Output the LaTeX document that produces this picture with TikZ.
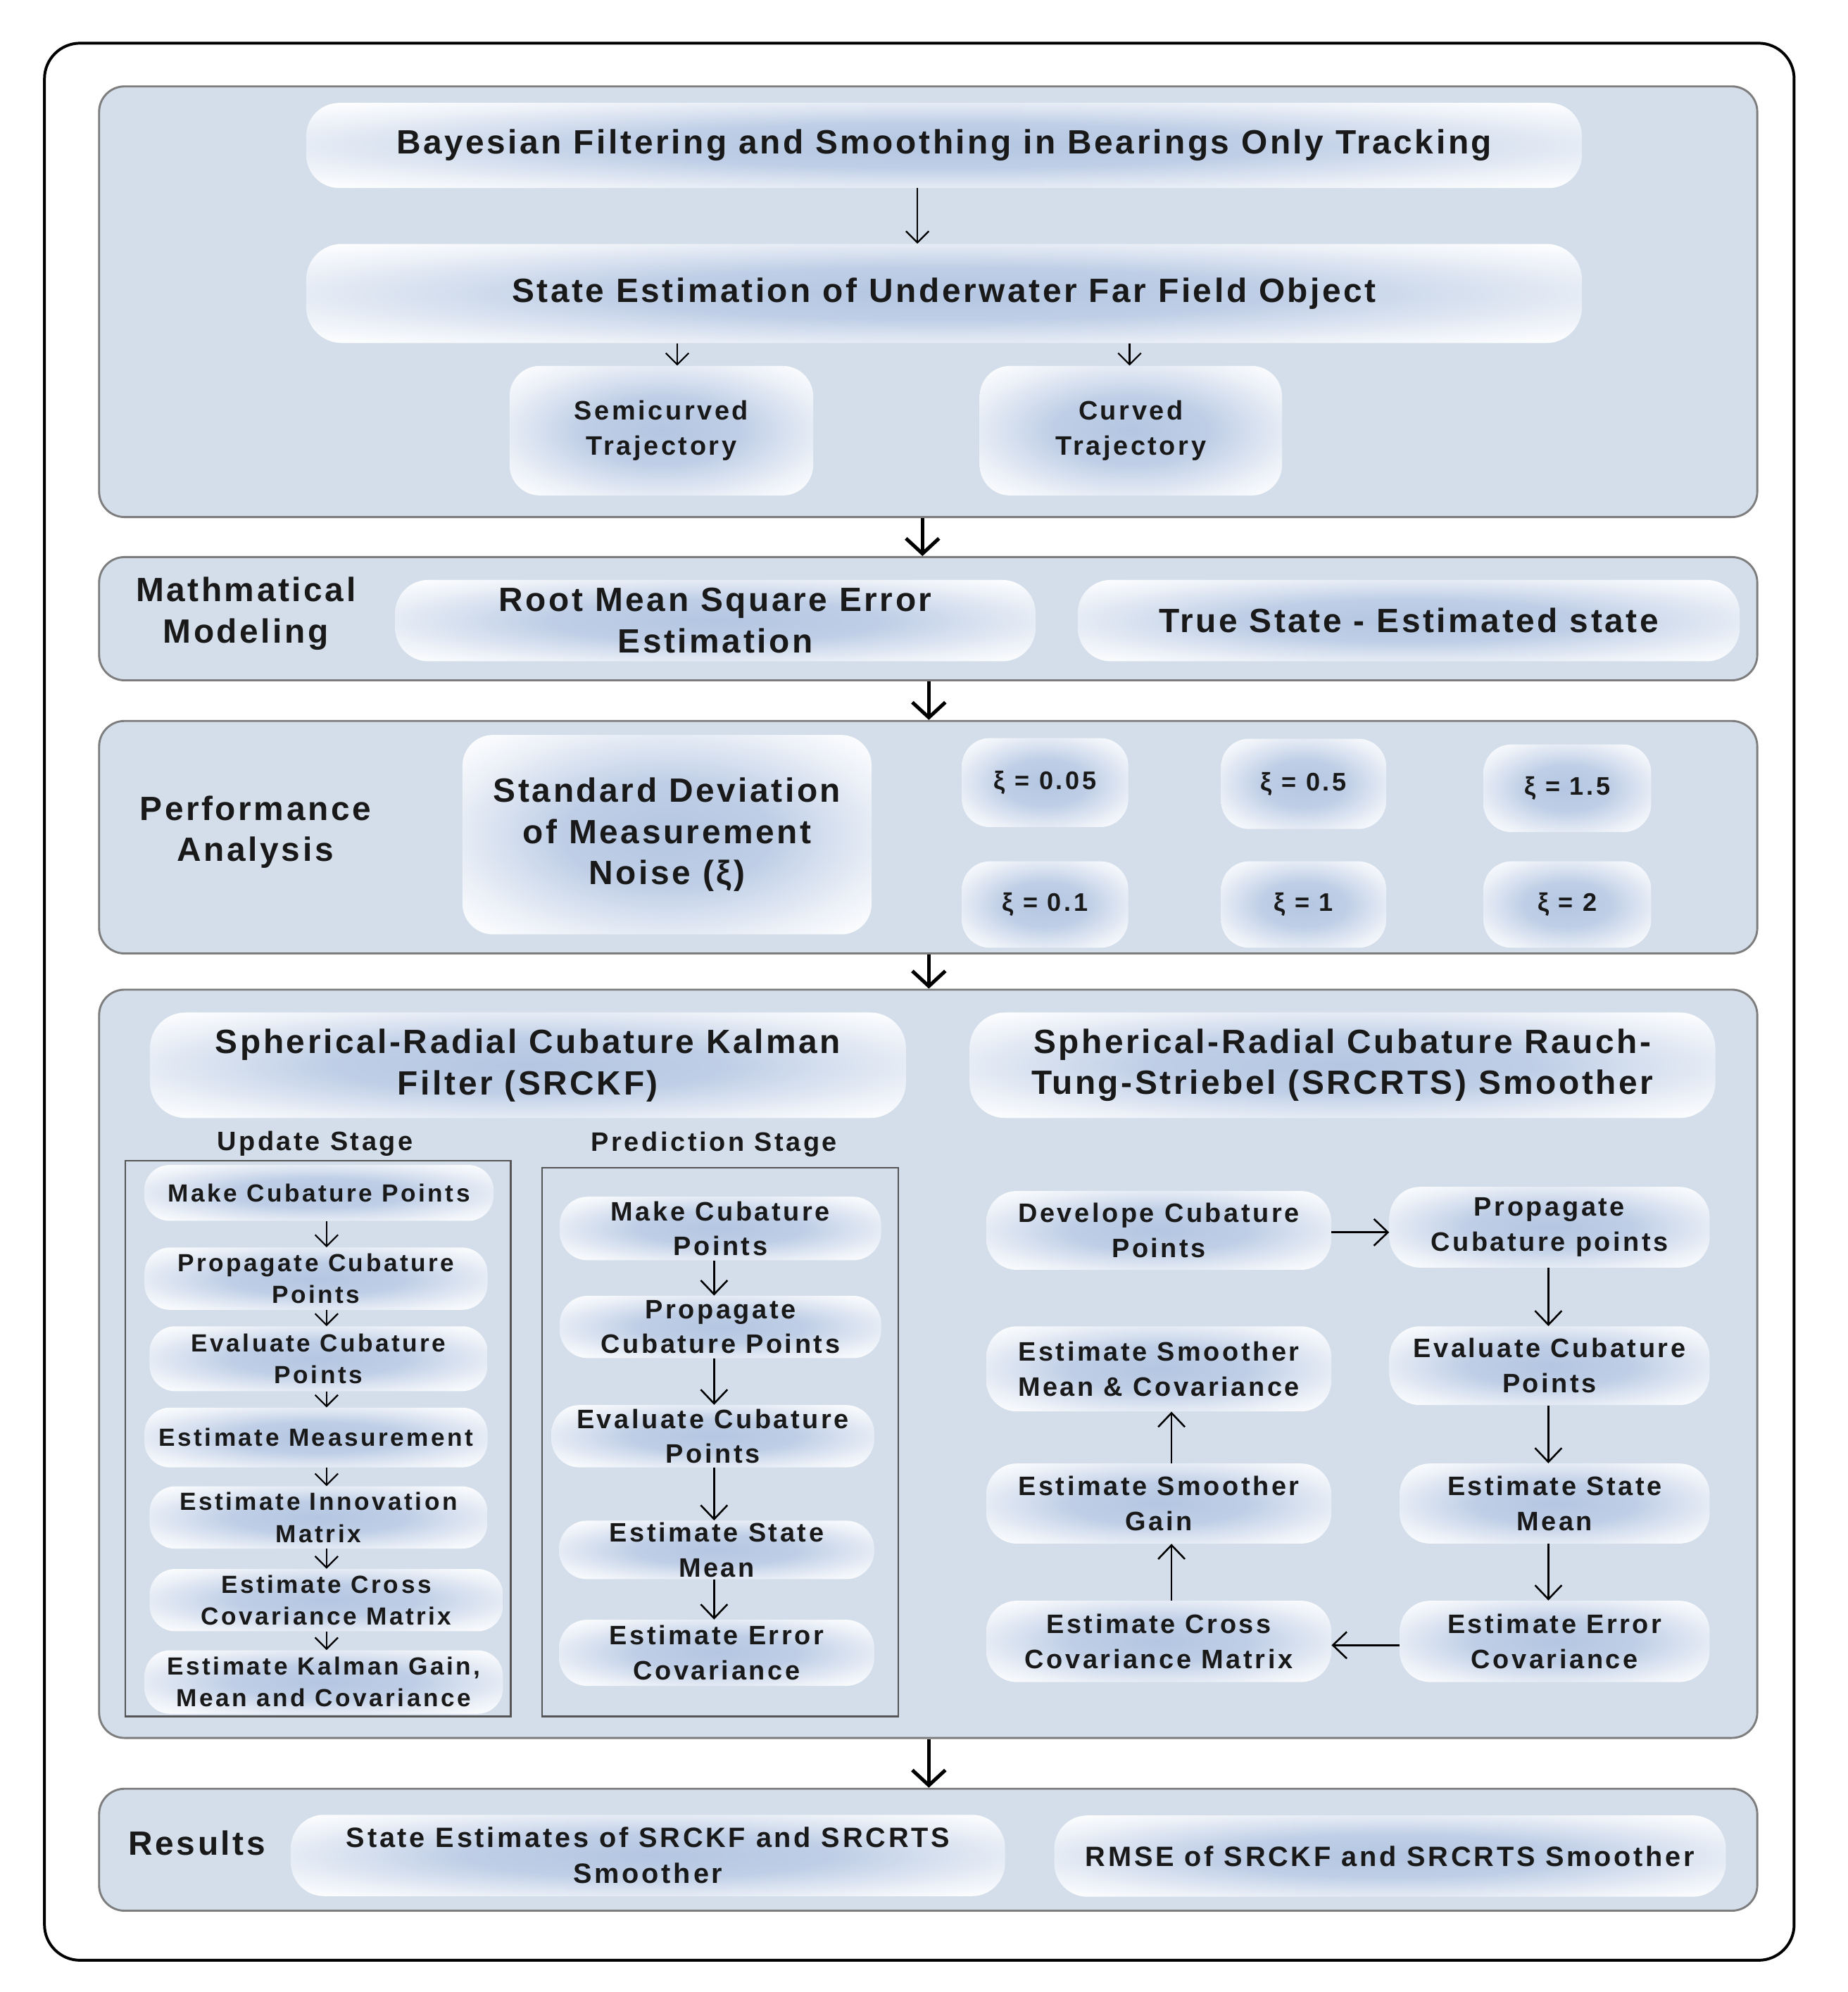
\documentclass[tikz,border=0pt]{standalone}
\usepackage{fontspec}
\setmainfont{Liberation Sans}
\newfontfamily\famTitle[LetterSpace=7.5]{Liberation Sans}
\newfontfamily\famMid[LetterSpace=9.5]{Liberation Sans}
\newfontfamily\famSmall[LetterSpace=10]{Liberation Sans}
\newcommand\ftTitle{\famTitle\bfseries\fontsize{26.5}{32.5}\selectfont}
\newcommand\ftMid{\famMid\bfseries\fontsize{21}{27.5}\selectfont}
\newcommand\ftRes{\famMid\bfseries\fontsize{22}{28.5}\selectfont}
\newcommand\ftSmall{\famSmall\bfseries\fontsize{19.5}{25}\selectfont}
\newcommand\ftXi{\famSmall\bfseries\fontsize{20}{24}\selectfont}
\usetikzlibrary{arrows.meta}
\definecolor{panelfill}{RGB}{211,222,234}
\definecolor{panelline}{RGB}{125,125,125}
\definecolor{boxblue}{RGB}{180,198,226}
\definecolor{txtc}{RGB}{25,25,25}
\definecolor{stagec}{RGB}{85,85,85}
\pgfdeclareradialshading{glow}{\pgfpoint{0bp}{0bp}}{color(0bp)=(boxblue); color(13bp)=(boxblue!85!white); color(27bp)=(boxblue!25!white); color(35bp)=(white); color(50bp)=(white)}
\tikzset{
 frame/.style={draw=black, line width=2.2pt, rounded corners=28pt, inner sep=0pt},
 panel/.style={draw=panelline, line width=1.6pt, fill=panelfill, rounded corners=20pt, inner sep=0pt, minimum width=1305pt},
 gbox/.style={shade, shading=glow, rounded corners=24pt, inner sep=0pt, align=center, text=txtc},
 pill/.style={gbox, rounded corners=20pt},
 stagebox/.style={draw=stagec, line width=1.3pt, inner sep=0pt},
 lbl/.style={inner sep=0pt, align=center, text=txtc},
 tT/.style={font=\ftTitle},
 tM/.style={font=\ftMid},
 tR/.style={font=\ftRes},
 tS/.style={font=\ftSmall},
 tX/.style={font=\ftXi},
 bigarrow/.style={draw=black, line width=2.8pt, -{Straight Barb[length=12pt,width=26pt]}},
 smallarrow/.style={draw=black, line width=1.2pt, -{Straight Barb[length=9pt,width=18pt]}},
 midarrow/.style={draw=black, line width=1.4pt, -{Straight Barb[length=11pt,width=21pt]}},
}
\begin{document}
\begin{tikzpicture}[x=1pt,y=-1pt]
\fill[white] (0,0) rectangle (1454,1568);
\useasboundingbox (0,0) rectangle (1454,1568);
\node[frame, minimum width=1377pt, minimum height=1509pt] (frame) at (723.5,788.5) {};
% panels
\node[panel, minimum height=339pt] (p1) at (730.5,237.5) {};
\node[panel, minimum height=97pt] (p2) at (730.5,487) {};
\node[panel, minimum height=183pt] (p3) at (730.5,659) {};
\node[panel, minimum height=589pt] (p4) at (730.5,1073.5) {};
\node[panel, minimum height=96pt] (p5) at (730.5,1456) {};
% panel 1
\node[gbox, tT, rounded corners=26pt, minimum width=1004pt, minimum height=67pt] (b1) at (743,114.5) {Bayesian Filtering and Smoothing in Bearings Only Tracking};
\node[gbox, tT, rounded corners=28pt, minimum width=1004pt, minimum height=78pt] (b2) at (743,231) {State Estimation of Underwater Far Field Object};
\node[gbox, tM, minimum width=239pt, minimum height=102pt] (b3) at (520.5,339) {Semicurved\\Trajectory};
\node[gbox, tM, minimum width=238pt, minimum height=102pt] (b4) at (890,339) {Curved\\Trajectory};
% panel 2
\node[lbl, tT] (mm) at (193.5,483) {Mathmatical\\Modeling};
\node[gbox, tT, rounded corners=26pt, minimum width=504pt, minimum height=64pt] (rmse) at (563,488.5) {Root Mean Square Error\\Estimation};
\node[gbox, tT, rounded corners=26pt, minimum width=521pt, minimum height=64pt] (tse) at (1108.7,488.5) {True State - Estimated state};
% panel 3
\node[lbl, tT] (perf) at (201,655) {Performance\\Analysis};
\node[gbox, tT, minimum width=322pt, minimum height=157pt] (sd) at (525,657) {Standard Deviation\\of Measurement\\Noise (ξ)};
\node[gbox, tX, rounded corners=22pt, minimum width=131pt, minimum height=70pt] (x1) at (822.5,616) {ξ = 0.05};
\node[gbox, tX, rounded corners=22pt, minimum width=130pt, minimum height=71pt] (x2) at (1026,617) {ξ = 0.5};
\node[gbox, tX, rounded corners=22pt, minimum width=132pt, minimum height=69pt] (x3) at (1233.5,620.5) {ξ = 1.5};
\node[gbox, tX, rounded corners=22pt, minimum width=131pt, minimum height=68pt] (x4) at (822.5,712) {ξ = 0.1};
\node[gbox, tX, rounded corners=22pt, minimum width=130pt, minimum height=68pt] (x5) at (1026,712) {ξ = 1};
\node[gbox, tX, rounded corners=22pt, minimum width=132pt, minimum height=68pt] (x6) at (1233.5,712) {ξ = 2};
% panel 4 headers
\node[gbox, tT, rounded corners=28pt, minimum width=595pt, minimum height=83pt] (srckf) at (415.5,838.5) {Spherical-Radial Cubature Kalman\\Filter (SRCKF)};
\node[gbox, tT, rounded corners=28pt, minimum width=587pt, minimum height=83pt] (srcrts) at (1056.5,838.5) {Spherical-Radial Cubature Rauch-\\Tung-Striebel (SRCRTS) Smoother};
% stages
\node[lbl, tM] (ustage) at (248,900) {Update Stage};
\node[lbl, tM] (pstage) at (562,901) {Prediction Stage};
\node[stagebox, minimum width=303.4pt, minimum height=437.4pt] (urect) at (250.3,1132.3) {};
\node[stagebox, minimum width=280.5pt, minimum height=432pt] (prect) at (566.75,1135) {};
% update boxes
\node[pill, tS, minimum width=275pt, minimum height=44pt] (u1) at (251,939) {Make Cubature Points};
\node[pill, tS, minimum width=270pt, minimum height=49pt] (u2) at (248.7,1006.5) {Propagate Cubature\\Points};
\node[pill, tS, minimum width=266pt, minimum height=51pt] (u3) at (250.7,1069.5) {Evaluate Cubature\\Points};
\node[pill, tS, minimum width=270pt, minimum height=47pt] (u4) at (248.7,1131.5) {Estimate Measurement};
\node[pill, tS, minimum width=266pt, minimum height=49pt] (u5) at (250.7,1194.5) {Estimate Innovation\\Matrix};
\node[pill, tS, minimum width=278pt, minimum height=49pt] (u6) at (256.8,1259.5) {Estimate Cross\\Covariance Matrix};
\node[pill, tS, minimum width=282pt, minimum height=50pt] (u7) at (254.8,1324) {Estimate Kalman Gain,\\Mean and Covariance};
% prediction boxes
\node[pill, tM, rounded corners=22pt, minimum width=253pt, minimum height=50pt] (q1) at (567,967) {Make Cubature\\Points};
\node[pill, tM, rounded corners=22pt, minimum width=253pt, minimum height=49pt] (q2) at (567,1044.5) {Propagate\\Cubature Points};
\node[pill, tM, rounded corners=22pt, minimum width=254pt, minimum height=49pt] (q3) at (561,1130.5) {Evaluate Cubature\\Points};
\node[pill, tM, rounded corners=22pt, minimum width=248pt, minimum height=46pt] (q4) at (564,1220) {Estimate State\\Mean};
\node[pill, tM, rounded corners=22pt, minimum width=248pt, minimum height=52pt] (q5) at (564,1301) {Estimate Error\\Covariance};
% smoother boxes
\node[gbox, tM, minimum width=271.5pt, minimum height=62pt] (r1) at (912,968.5) {Develope Cubature\\Points};
\node[gbox, tM, minimum width=252pt, minimum height=63.5pt] (r2) at (1219.5,966) {Propagate\\Cubature points};
\node[gbox, tM, minimum width=252pt, minimum height=62pt] (r3) at (1219.5,1075) {Evaluate Cubature\\Points};
\node[gbox, tM, minimum width=271.5pt, minimum height=67pt] (r4) at (912,1077.5) {Estimate Smoother\\Mean \& Covariance};
\node[gbox, tM, minimum width=244pt, minimum height=63pt] (r5) at (1223.5,1183.5) {Estimate State\\Mean};
\node[gbox, tM, minimum width=271.5pt, minimum height=63pt] (r6) at (912,1183.5) {Estimate Smoother\\Gain};
\node[gbox, tM, minimum width=244pt, minimum height=64pt] (r7) at (1223.5,1292) {Estimate Error\\Covariance};
\node[gbox, tM, minimum width=271.5pt, minimum height=64pt] (r8) at (912,1292) {Estimate Cross\\Covariance Matrix};
% panel 5
\node[lbl, tT] (res) at (155,1451) {Results};
\node[gbox, tR, rounded corners=26pt, minimum width=562pt, minimum height=64pt] (s1) at (510,1460.5) {State Estimates of SRCKF and SRCRTS\\Smoother};
\node[gbox, tR, rounded corners=26pt, minimum width=528.5pt, minimum height=64pt] (s2) at (1094,1461) {RMSE of SRCKF and SRCRTS Smoother};
% helper coordinates
\coordinate (c1) at (722,0);
\coordinate (c2) at (533,0);
\coordinate (c3) at (889,0);
\coordinate (a1) at (726,0);
\coordinate (a2) at (731,0);
\coordinate (ua) at (257,0);
\coordinate (pax) at (562,0);
\coordinate (ra) at (1218.6,0);
\coordinate (la) at (922,0);
\coordinate (h1) at (0,970);
\coordinate (h2) at (0,1295);
% connectors
\draw[smallarrow] (b1.south -| c1) -- (b2.north -| c1);
\draw[smallarrow] (b2.south -| c2) -- (b3.north -| c2);
\draw[smallarrow] (b2.south -| c3) -- (b4.north -| c3);
\draw[bigarrow] (p1.south -| a1) -- (p2.north -| a1);
\draw[bigarrow] (p2.south -| a2) -- (p3.north -| a2);
\draw[bigarrow] (p3.south -| a2) -- (p4.north -| a2);
\draw[bigarrow] (p4.south -| a2) -- (p5.north -| a2);
\foreach \a/\b in {u1/u2,u2/u3,u3/u4,u4/u5,u5/u6,u6/u7}
  \draw[smallarrow] (\a.south -| ua) -- (\b.north -| ua);
\foreach \a/\b in {q1/q2,q2/q3,q3/q4,q4/q5}
  \draw[midarrow] (\a.south -| pax) -- (\b.north -| pax);
\draw[midarrow] (r1.east |- h1) -- (r2.west |- h1);
\draw[midarrow] (r2.south -| ra) -- (r3.north -| ra);
\draw[midarrow] (r3.south -| ra) -- (r5.north -| ra);
\draw[midarrow] (r5.south -| ra) -- (r7.north -| ra);
\draw[midarrow] (r7.west |- h2) -- (r8.east |- h2);
\draw[midarrow] (r8.north -| la) -- (r6.south -| la);
\draw[midarrow] (r6.north -| la) -- (r4.south -| la);
\end{tikzpicture}
\end{document}
